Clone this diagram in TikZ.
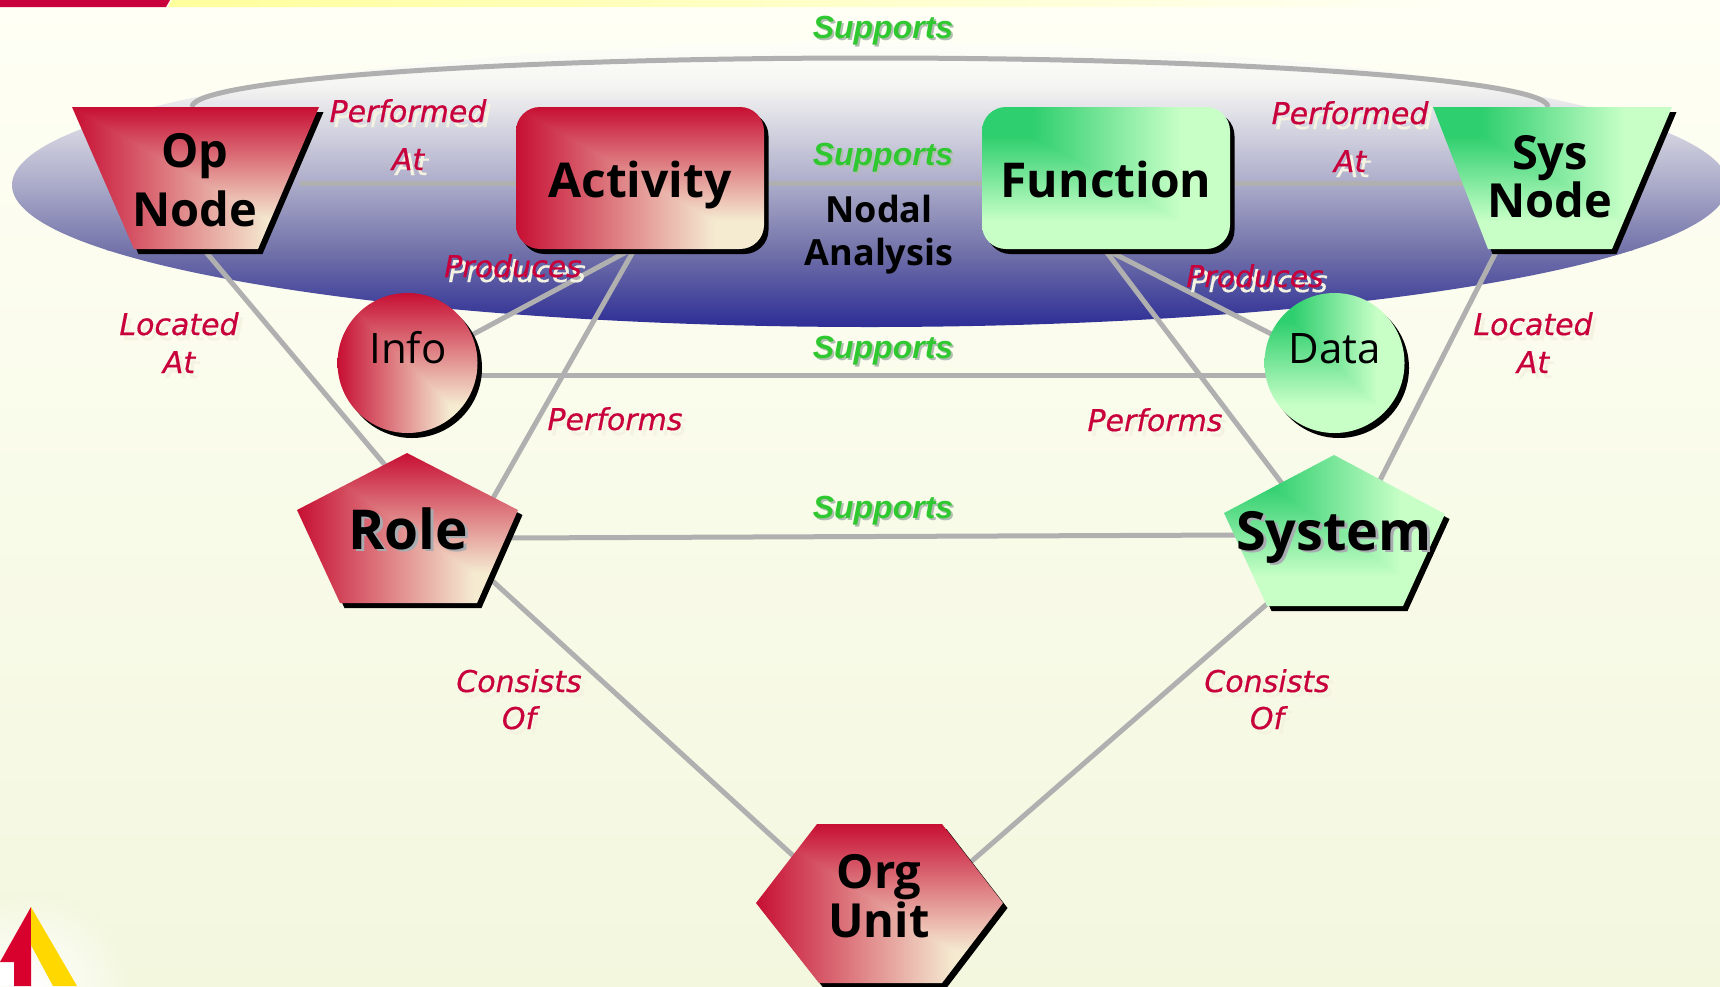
\documentclass[tikz,border=0pt]{standalone}
\usepackage{fontspec}
\setmainfont{Open Sans}
\newfontfamily\supfont{Liberation Sans}
\newfontfamily\lblfont{DejaVu Sans}[FakeBold=0.5]
\usetikzlibrary{calc}
\definecolor{edgegray}{RGB}{176,176,176}
\definecolor{lblred}{RGB}{200,0,60}
\definecolor{supgreen}{RGB}{48,200,48}
\definecolor{bgtop}{RGB}{255,255,245}
\definecolor{bgbot}{RGB}{243,247,222}
\definecolor{palesh}{RGB}{244,242,224}
\definecolor{supsh}{RGB}{175,190,175}
\definecolor{bigsh}{RGB}{168,172,176}
\definecolor{logored}{RGB}{216,0,44}
\definecolor{logoyel}{RGB}{255,216,0}
\definecolor{barcol}{RGB}{255,255,156}
\definecolor{ella}{RGB}{45,45,150}
\definecolor{ellb}{RGB}{115,115,170}
\definecolor{ellc}{RGB}{172,172,202}
\definecolor{elld}{RGB}{245,245,243}
\definecolor{elle}{RGB}{254,254,248}
\pgfdeclarelayer{back}
\pgfdeclarelayer{edges}
\pgfsetlayers{back,edges,main}
\pgfdeclarefunctionalshading{redcorner}{\pgfpoint{0bp}{0bp}}{\pgfpoint{100bp}{100bp}}{}{
  exch 25 sub 50 div exch 75 exch sub 50 div
  2 copy gt {exch} if pop
  0.8 div dup 1 gt {pop 1} if
  dup 0.18 mul 0.78 add exch dup 0.86 mul 0.06 add exch 0.62 mul 0.2 add
}
\pgfdeclarefunctionalshading{greencorner}{\pgfpoint{0bp}{0bp}}{\pgfpoint{100bp}{100bp}}{}{
  exch 25 sub 50 div exch 75 exch sub 50 div
  2 copy lt {exch} if pop
  0.2 sub 0.6 div dup 1 gt {pop 1} if dup 0 lt {pop 0} if
  dup 0.6 mul 0.18 add exch dup 0.19 mul 0.81 add exch 0.35 mul 0.43 add
}
\tikzset{
  link/.style={draw=edgegray,line width=5pt},
  bigtext/.style={anchor=base,align=center,text=black,inner sep=0pt,font=\fontsize{47}{#1}\selectfont\bfseries},
  bigtext/.default=59,
  widetext/.style={anchor=base,inner sep=0pt,text=black,font=\fontsize{48}{59}\selectfont\bfseries},
  hugetext/.style={anchor=base,inner sep=0pt,text=black,font=\fontsize{#1}{60}\selectfont\bfseries},
  smalltext/.style={anchor=base,inner sep=0pt,text=black,font=\fontsize{42}{50}\selectfont},
  lbl/.style={anchor=base,align=center,inner sep=0pt,font=\fontsize{30}{#1}\selectfont\lblfont\itshape},
  lbl/.default=37,
  sup/.style={anchor=base,inner sep=0pt,font=\fontsize{32}{36}\selectfont\supfont\bfseries\itshape}
}
\newcommand\solidshape[2]{\fill[black,shift={(4.5,5)}] #2; \shade[shading=#1] #2;}
\newcommand\redlabel[5][37]{%
  \node[lbl=#1,text=palesh] (#2s) at ($(#3,#4)+(4,5)$) {#5};
  \node[lbl=#1,text=lblred] (#2) at (#3,#4) {#5};}
\newcommand\suplabel[3]{%
  \node[sup,text=supsh] (#1s) at ($(#2,#3)+(2,2)$) {Supports};
  \node[sup,text=supgreen] (#1) at (#2,#3) {Supports};}
\newcommand\linkit[6]{\draw[link] ($(#1.base)+(#2,#3)$) -- ($(#4.base)+(#5,#6)$);}
\begin{document}
\begin{tikzpicture}[x=1pt,y=-1pt]
\useasboundingbox (0,0) rectangle (1720,986);
\begin{pgfonlayer}{back}
  \clip (0,0) rectangle (1720,986);
  \shade[top color=bgtop,bottom color=bgbot] (0,0) rectangle (1720,986);
  \shade[left color=barcol,right color=bgtop] (168,7) -- (172,0) -- (1450,0) -- (1450,7) -- cycle;
  \fill[lblred] (0,0) -- (170,0) -- (166,7) -- (0,7) -- cycle;
  \begin{scope}
    \clip (870,185) ellipse [x radius=858pt,y radius=142pt];
    \shade[top color=elle,bottom color=elld] (0,43) rectangle (1720,85.5);
    \shade[top color=elld,bottom color=ellc] (0,85) rectangle (1720,183.5);
    \shade[top color=ellc,bottom color=ellb] (0,183) rectangle (1720,250.5);
    \shade[top color=ellb,bottom color=ella] (0,250) rectangle (1720,327);
  \end{scope}
  \shade[inner color=white,outer color=bgbot] (30,990) circle [radius=100pt];
  \fill[white] (0,962) rectangle (31,986);
  \fill[logored] (31,907) -- (0,962) -- (14,962) -- (14,986) -- (31,986) -- cycle;
  \fill[logoyel] (31,907) -- (77,986) -- (53,986) -- (31,945) -- cycle;
\end{pgfonlayer}
% shapes
\begin{scope}
\clip (0,0) rectangle (1720,986);
\solidshape{redcorner}{(72,107) -- (319,107) -- (258,249) -- (134,249) -- cycle}
\solidshape{redcorner}{[rounded corners=24pt] (516,107) rectangle (764,249)}
\solidshape{greencorner}{[rounded corners=24pt] (982,107) rectangle (1230,249)}
\solidshape{greencorner}{(1433,107) -- (1672,107) -- (1612,249) -- (1488,249) -- cycle}
\solidshape{redcorner}{(407.5,363) circle [radius=70pt]}
\solidshape{greencorner}{(1334.5,363) circle [radius=70pt]}
\solidshape{redcorner}{(407,453) -- (518,510) -- (477,603) -- (340,603) -- (297,510) -- cycle}
\solidshape{greencorner}{(1334,455) -- (1445,514) -- (1403,606) -- (1267,606) -- (1224,513) -- cycle}
\solidshape{redcorner}{(817,824) -- (942,824) -- (1003,903) -- (942,983) -- (819,983) -- (756,903) -- cycle}
\end{scope}
% node texts
\node[bigtext] (opnode) at (195,226) {Op\\Node};
\node[widetext] (activity) at (640,197) {Activity};
\node[widetext] (function) at (1106,197) {Function};
\node[bigtext=48] (sysnode) at (1550,217) {Sys\\Node};
\node[smalltext] (info) at (408,363) {Info};
\node[smalltext] (data) at (1335,363) {Data};
\node[hugetext=55,text=bigsh] (roleS) at (411,551) {Role};
\node[hugetext=55] (role) at (408,549) {Role};
\node[hugetext=54,text=bigsh] (systemS) at (1337,552) {System};
\node[hugetext=54] (system) at (1334,550) {System};
\node[bigtext=49] (orgunit) at (879,937) {Org\\Unit};
\node[anchor=base,align=center,inner sep=0pt,font=\fontsize{36}{43}\selectfont\bfseries] (nodal) at (879,265) {Nodal\\Analysis};
% labels
\suplabel{sa}{883}{38}
\suplabel{sb}{883}{165}
\suplabel{sc}{883}{358}
\suplabel{sd}{883}{518}
\redlabel[48]{pa}{408}{170}{Performed\\At}
\redlabel[48]{pb}{1350}{172}{Performed\\At}
\redlabel[38]{la}{179}{373}{Located\\At}
\redlabel[38]{lb}{1533}{373}{Located\\At}
\redlabel{pra}{513}{277}{Produces}
\redlabel{prb}{1255}{287}{Produces}
\redlabel{pfa}{615}{430}{Performs}
\redlabel{pfb}{1155}{431}{Performs}
\redlabel{ca}{519}{729}{Consists\\Of}
\redlabel{cb}{1267}{729}{Consists\\Of}
% connectors
\begin{pgfonlayer}{edges}
\coordinate (arctop) at (870,58);
\draw[link] ($(opnode.base)+(-3,-119)$) .. controls ($(opnode.base)+(-3,-146)$) and ($(arctop)+(-374,0)$) .. (arctop)
   .. controls ($(arctop)+(374,0)$) and ($(sysnode.base)+(-2,-137)$) .. ($(sysnode.base)+(-2,-110)$);
\linkit{opnode}{105}{-43}{activity}{-80}{-14}
\linkit{activity}{80}{-14}{function}{-76}{-14}
\linkit{function}{74}{-14}{sysnode}{-70}{-34}
\linkit{opnode}{5}{19}{role}{-23}{-84}
\linkit{activity}{-10}{53}{info}{62}{-27}
\linkit{activity}{-6}{53}{role}{84}{-49}
\linkit{info}{60}{12}{data}{-55}{12}
\linkit{function}{1}{53}{data}{-50}{-22}
\linkit{function}{-1}{53}{system}{-47}{-60}
\linkit{sysnode}{-53}{33}{system}{41}{-60}
\linkit{role}{97}{-11}{system}{-94}{-15}
\linkit{role}{77}{25}{orgunit}{-79}{-75}
\linkit{system}{-59}{47}{orgunit}{86}{-70}
\end{pgfonlayer}
\end{tikzpicture}
\end{document}
